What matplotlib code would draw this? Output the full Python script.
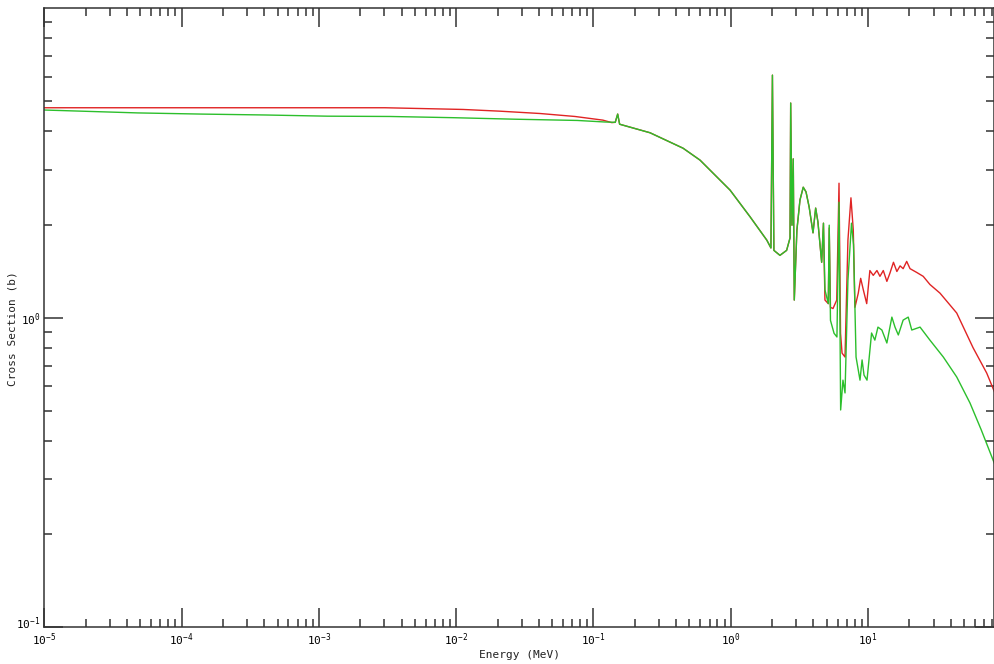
import math
import matplotlib
matplotlib.use("Agg")
import matplotlib.pyplot as plt
import matplotlib.transforms as mtransforms
from matplotlib.ticker import LogLocator, FixedLocator, FuncFormatter, NullFormatter

# ---- data (Energy in MeV, cross section in barns) ----
red_low_E = [1e-5, 3.03e-3, 1.12e-2, 2.08e-2, 4.08e-2, 7.33e-2, 0.117, 0.136]
red_low_S = [4.77, 4.77, 4.71, 4.65, 4.57, 4.47, 4.35, 4.27]

green_low_E = [1e-5, 4.8e-5, 1.41e-4, 4.05e-4, 1.15e-3, 3.3e-3, 9.5e-3, 2.68e-2, 7.6e-2, 0.121]
green_low_S = [4.69, 4.59, 4.55, 4.52, 4.48, 4.47, 4.43, 4.38, 4.34, 4.29]

shared_E = [0.144, 0.150, 0.155, 0.164, 0.258, 0.449, 0.597, 0.987, 1.38, 1.83,
            1.96, 2.01, 2.06, 2.28, 2.55, 2.70, 2.73, 2.79, 2.85, 2.90,
            3.03, 3.19, 3.37, 3.53, 3.72, 3.97, 4.15, 4.31, 4.59, 4.73]
shared_S = [4.28, 4.55, 4.22, 4.19, 3.96, 3.53, 3.23, 2.585, 2.12, 1.78,
            1.68, 6.08, 1.65, 1.59, 1.65, 1.81, 4.94, 1.99, 3.26, 1.14,
            1.92, 2.40, 2.64, 2.55, 2.28, 1.88, 2.26, 2.04, 1.51, 2.02]

green_high_E = [4.85, 5.13, 5.21, 5.32, 5.65, 5.93, 6.14, 6.31, 6.56, 6.79,
                7.13, 7.57, 7.83, 8.17, 8.73, 9.04, 9.34, 9.82, 10.6, 11.2,
                11.8, 12.6, 13.7, 14.9, 15.7, 16.6, 18.0, 19.6, 20.8, 23.9,
                28.2, 35.3, 44.2, 55.2, 66.8, 84]
green_high_S = [1.23, 1.11, 1.99, 0.98, 0.89, 0.866, 2.36, 0.503, 0.628, 0.571,
                1.32, 2.02, 1.72, 0.746, 0.628, 0.730, 0.652, 0.628, 0.892, 0.846,
                0.932, 0.912, 0.828, 1.004, 0.932, 0.879, 0.982, 1.004, 0.912, 0.932,
                0.846, 0.746, 0.643, 0.530, 0.433, 0.334]

red_high_E = [4.85, 5.13, 5.21, 5.32, 5.55, 5.91, 6.14, 6.30, 6.46, 6.79,
              7.13, 7.50, 7.80, 8.02, 8.48, 8.83, 9.23, 9.77, 10.3, 10.9,
              11.6, 12.2, 12.9, 13.7, 14.4, 15.3, 16.2, 17.1, 18.0, 19.1,
              20.2, 22.6, 25.2, 28.2, 33.4, 44.2, 58.1, 73.1, 84]
red_high_S = [1.14, 1.11, 1.95, 1.08, 1.07, 1.14, 2.72, 0.89, 0.768, 0.746,
              1.78, 2.44, 1.92, 1.08, 1.20, 1.34, 1.23, 1.11, 1.42, 1.37,
              1.42, 1.36, 1.42, 1.31, 1.39, 1.51, 1.41, 1.47, 1.44, 1.52,
              1.44, 1.40, 1.36, 1.28, 1.20, 1.035, 0.80, 0.662, 0.570]

x_major_ticks = [1e-5, 1e-4, 1e-3, 1e-2, 1e-1, 1e0, 1e1]
y_major_ticks = [1e-1, 1e0]
x_label = "Energy (MeV)"
y_label = "Cross Section (b)"

red_E = red_low_E + shared_E + red_high_E
red_S = red_low_S + shared_S + red_high_S
green_E = green_low_E + shared_E + green_high_E
green_S = green_low_S + shared_S + green_high_S

plt.rcParams['mathtext.fontset'] = 'custom'
plt.rcParams['mathtext.rm'] = 'DejaVu Sans Mono'
plt.rcParams['mathtext.it'] = 'DejaVu Sans Mono'

fig = plt.figure(figsize=(9.95, 6.64), dpi=100)
ax = fig.add_axes([44.3 / 995, (664 - 627) / 664, (994 - 44.3) / 995, (627 - 8.3) / 664])

ax.plot(red_E, red_S, color='#e02424', lw=1.0)
ax.plot(green_E, green_S, color='#2cbf2c', lw=1.0)

ax.set_xscale('log')
ax.set_yscale('log')
ax.set_xlim(1e-5, 82.6)
ax.set_ylim(0.1, 10)

def fmt(v, pos):
    e = int(round(math.log10(v)))
    return r'$10^{%d}$' % e

ax.xaxis.set_major_locator(FixedLocator(x_major_ticks))
ax.yaxis.set_major_locator(FixedLocator(y_major_ticks))
ax.xaxis.set_major_formatter(FuncFormatter(fmt))
ax.yaxis.set_major_formatter(FuncFormatter(fmt))
ax.xaxis.set_minor_locator(LogLocator(base=10, subs=range(2, 10), numticks=20))
ax.yaxis.set_minor_locator(LogLocator(base=10, subs=range(2, 10), numticks=20))
ax.xaxis.set_minor_formatter(NullFormatter())
ax.yaxis.set_minor_formatter(NullFormatter())

ax.tick_params(which='both', direction='in', top=True, right=True, color='#333333', width=1.1)
ax.tick_params(which='major', length=13.5, labelsize=8, pad=3)
ax.tick_params(which='minor', length=6)
for s in ax.spines.values():
    s.set_color('#333333')
    s.set_linewidth(1.1)

ax.set_xlabel(x_label, fontsize=8, family='DejaVu Sans Mono', color='#222222')
ax.set_ylabel(y_label, fontsize=8, family='DejaVu Sans Mono', color='#222222')
ax.xaxis.set_label_coords(0.5, -0.037)
ax.yaxis.set_label_coords(-0.0285, 0.483)

fig.canvas.draw()
# nudge the bottom y tick label up so it clears the first x tick label
ylabels = ax.yaxis.get_majorticklabels()
if ylabels:
    off = mtransforms.ScaledTranslation(0, 5 / 100, fig.dpi_scale_trans)
    ylabels[0].set_transform(ylabels[0].get_transform() + off)

fig.savefig('out.png', dpi=100)
